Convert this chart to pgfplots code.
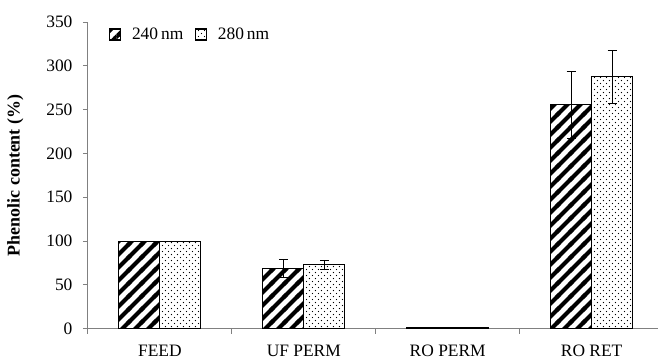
\documentclass[border=0pt]{standalone}
\usepackage{pgfplots}
\pgfplotsset{compat=1.18}
\usepackage{fontspec}
\setmainfont{Liberation Serif}
\usetikzlibrary{patterns.meta}
\tikzdeclarepattern{
  name=thickstripes,
  bounding box={(0,0) and (13pt,13pt)},
  tile size={(13pt,13pt)},
  code={
    \draw[line width=4.2pt] (-1pt,-1pt) -- (14pt,14pt);
    \draw[line width=4.2pt] (-2pt,11pt) -- (2pt,15pt);
    \draw[line width=4.2pt] (11pt,-2pt) -- (15pt,2pt);
  }
}
\tikzdeclarepattern{
  name=sparsedots,
  bounding box={(0,0) and (6pt,6pt)},
  tile size={(6pt,6pt)},
  code={
    \fill[black!75] (1.5pt,1.5pt) circle (0.7pt);
    \fill[black!75] (4.5pt,4.5pt) circle (0.7pt);
  }
}
\begin{document}
\begin{tikzpicture}
\begin{axis}[
  scale only axis,
  width=570bp, height=307bp,
  xmin=-0.5, xmax=3.458,
  ymin=0, ymax=350,
  axis x line*=bottom, axis y line*=left,
  axis line style={gray, line width=0.9pt},
  ytick={0,50,...,350},
  xtick={0,1,2,3},
  xticklabels={FEED,UF PERM,RO PERM,RO RET},
  minor xtick={-0.5,0.5,1.5,2.5},
  x tick style={draw=none},
  minor x tick style={draw=gray, line width=0.9pt},
  y tick style={gray, line width=0.9pt},
  tick align=outside,
  major tick length=5bp, minor tick length=5bp,
  ticklabel style={font=\fontsize{17.5}{20}\selectfont, black},
  /pgf/number format/assume math mode=true,
  xticklabel style={yshift=-8bp},
  yticklabel style={xshift=-7bp},
  ylabel={\textbf{Phenolic content (\%)}},
  every axis y label/.style={at={(rel axis cs:0,0.5)}, xshift=-61bp, rotate=90, anchor=south,
    font=\fontsize{18}{21}\selectfont},
  ybar=0pt, bar width=41bp,
  legend style={at={(rel axis cs:0.036,0.985)}, anchor=north west, draw=none, fill=none,
    font=\fontsize{17.5}{20}\selectfont, column sep=10bp, inner sep=0pt,
    nodes={inner sep=1.2bp}},
  legend columns=2,
  legend image code/.code={\draw[#1, line width=1.2pt] (0bp,-5.5bp) rectangle (11bp,5.5bp);},
  clip=false,
]
\addplot[draw=black, line width=1pt, pattern={thickstripes},
  error bars/.cd, y dir=both, y explicit,
  error bar style={black, line width=1pt},
  error mark options={rotate=90, mark size=4.5bp, line width=1pt}]
  coordinates {(0,100) +- (0,0) (1,68.5) +- (0,10) (2,1.5) +- (0,0) (3,255.5) +- (0,38)};
\addlegendentry{240\,nm}
\addplot[draw=black, line width=1pt, pattern={sparsedots},
  error bars/.cd, y dir=both, y explicit,
  error bar style={black, line width=1pt},
  error mark options={rotate=90, mark size=4.5bp, line width=1pt}]
  coordinates {(0,100) +- (0,0) (1,73) +- (0,5) (2,1.5) +- (0,0) (3,287.5) +- (0,30.5)};
\addlegendentry{280\,nm}
\end{axis}
\path (-88bp,-31bp) rectangle (570bp,329bp);
\end{tikzpicture}
\end{document}
